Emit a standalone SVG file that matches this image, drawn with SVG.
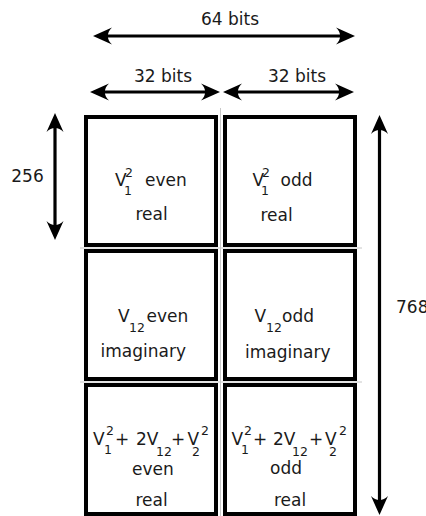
<svg xmlns="http://www.w3.org/2000/svg" width="426" height="516" viewBox="0 0 426 516">
<style>
.t{font-family:"DejaVu Sans","Liberation Sans",sans-serif;font-size:17px;fill:#1a1a1a}
.s{font-size:12.5px}
.box{fill:#fff;stroke:#000;stroke-width:4}
.arr{fill:none;stroke:#000;stroke-width:3.2;marker-start:url(#ah);marker-end:url(#ah)}
.grid{stroke:#c8c8c8;stroke-width:1}
</style>
<defs>
<marker id="ah" markerUnits="userSpaceOnUse" markerWidth="22" markerHeight="22" viewBox="0 0 22 22" refX="10" refY="10" orient="auto-start-reverse">
<path d="M19,10 L0,1.5 C5.5,6.5 5.5,13.5 0,18.5 Z" fill="#000"/>
</marker>
</defs>
<g id="grid-lines">
<line class="grid" x1="220.5" y1="108" x2="220.5" y2="516"/>
<line class="grid" x1="80" y1="248" x2="362" y2="248"/>
<line class="grid" x1="80" y1="382" x2="362" y2="382"/>
</g>
<g id="connectors">
<line class="arr" x1="102" y1="36" x2="346" y2="36"/>
<line class="arr" x1="99" y1="92" x2="211" y2="92"/>
<line class="arr" x1="232" y1="92" x2="345" y2="92"/>
<line class="arr" x1="55" y1="122" x2="55" y2="231"/>
<line class="arr" x1="379.5" y1="124" x2="379.5" y2="506"/>
</g>
<g id="labels">
<text class="t" x="230" y="25" text-anchor="middle">64 bits</text>
<text class="t" x="163" y="82" text-anchor="middle">32 bits</text>
<text class="t" x="297" y="82" text-anchor="middle">32 bits</text>
<text class="t" x="27.5" y="182" text-anchor="middle">256</text>
<text class="t" x="396" y="313">768</text>
</g>
<g id="cell-v1-even">
<rect class="box" x="86" y="117" width="130" height="128"/>
<text class="t"><tspan x="115" y="186">V</tspan><tspan class="s" x="125" y="177">2</tspan><tspan class="s" x="124" y="195">1</tspan><tspan x="145" y="186">even</tspan></text>
<text class="t" x="135.5" y="220">real</text>
</g>
<g id="cell-v1-odd">
<rect class="box" x="225" y="117" width="130" height="128"/>
<text class="t"><tspan x="252.5" y="186">V</tspan><tspan class="s" x="262" y="177">2</tspan><tspan class="s" x="261" y="195">1</tspan><tspan x="280.5" y="186">odd</tspan></text>
<text class="t" x="260.5" y="221">real</text>
</g>
<g id="cell-v12-even">
<rect class="box" x="86" y="251" width="130" height="128"/>
<text class="t"><tspan x="118" y="322">V</tspan><tspan class="s" x="129" y="332">12</tspan><tspan x="146.5" y="322">even</tspan></text>
<text class="t" x="100.5" y="357">imaginary</text>
</g>
<g id="cell-v12-odd">
<rect class="box" x="225" y="251" width="130" height="128"/>
<text class="t"><tspan x="254.5" y="322">V</tspan><tspan class="s" x="266" y="332">12</tspan><tspan x="282" y="322">odd</tspan></text>
<text class="t" x="245" y="358">imaginary</text>
</g>
<g id="cell-sum-even">
<rect class="box" x="86" y="385" width="130" height="129"/>
<text class="t"><tspan x="93" y="445">V</tspan><tspan class="s" x="106" y="435">2</tspan><tspan class="s" x="104" y="454">1</tspan><tspan x="115" y="445">+</tspan><tspan x="136" y="445">2V</tspan><tspan class="s" x="156" y="456">12</tspan><tspan x="171" y="445">+</tspan><tspan x="187.5" y="445">V</tspan><tspan class="s" x="192" y="456">2</tspan><tspan class="s" x="201" y="435">2</tspan></text>
<text class="t" x="132" y="475">even</text>
<text class="t" x="135.5" y="506">real</text>
</g>
<g id="cell-sum-odd">
<rect class="box" x="225" y="385" width="130" height="129"/>
<text class="t"><tspan x="231.5" y="445">V</tspan><tspan class="s" x="244" y="435">2</tspan><tspan class="s" x="241" y="454">1</tspan><tspan x="253" y="445">+</tspan><tspan x="273" y="445">2V</tspan><tspan class="s" x="292" y="456">12</tspan><tspan x="309" y="445">+</tspan><tspan x="325" y="445">V</tspan><tspan class="s" x="329" y="456">2</tspan><tspan class="s" x="339" y="435">2</tspan></text>
<text class="t" x="270" y="474">odd</text>
<text class="t" x="274" y="506">real</text>
</g>
</svg>
